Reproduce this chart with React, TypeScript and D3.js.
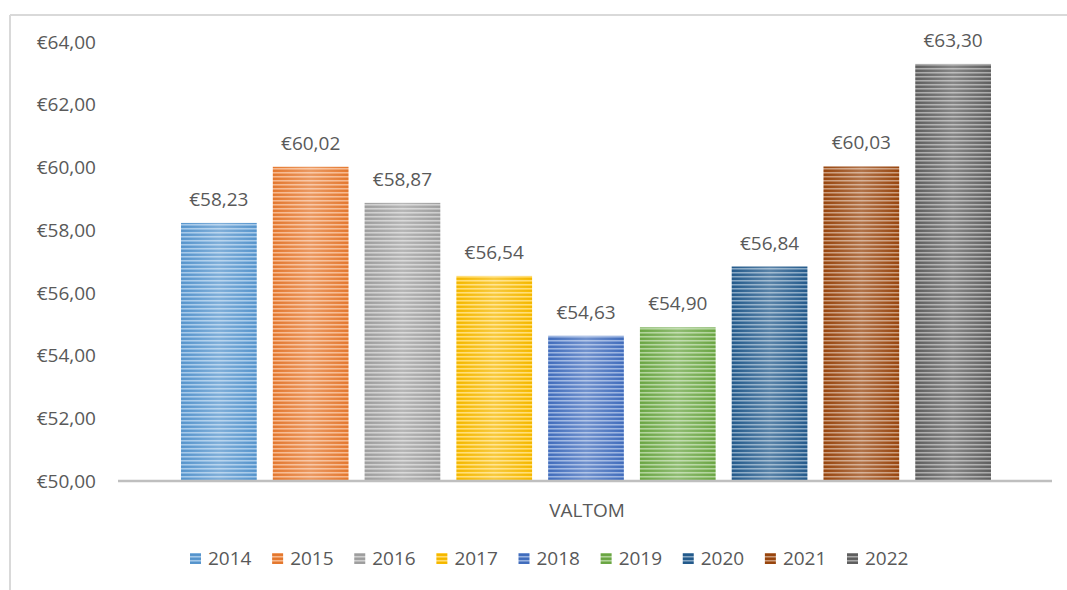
import React from "react";
import * as d3 from "d3";

const years = ["2014", "2015", "2016", "2017", "2018", "2019", "2020", "2021", "2022"];
const values = [58.23, 60.02, 58.87, 56.54, 54.63, 54.9, 56.84, 60.03, 63.3];
const colors = ["#5B9BD5", "#ED7D31", "#A5A5A5", "#FFC000", "#4472C4", "#70AD47", "#255E91", "#9E480E", "#636363"];
const yTicks = [50, 52, 54, 56, 58, 60, 62, 64];
const category = "VALTOM";

const W = 1067;
const H = 590;
const FONT = "'Open Sans', 'Noto Sans', sans-serif";
const TEXT = "#595959";
const FS = 19;

const fmt = (v: number) => "€" + v.toFixed(2).replace(".", ",");

export default function App() {
  const y = d3.scaleLinear().domain([50, 64]).range([481, 42]);
  const plotLeft = 118;
  const plotRight = 1052;
  const x = d3
    .scaleBand<string>()
    .domain(years)
    .range([173, 999])
    .paddingInner(0.175)
    .paddingOuter(0.0875);
  const legendX = d3.scalePoint<string>().domain(years).range([190, 847]);

  return (
    <svg
      width={W}
      height={H}
      style={{ position: "absolute", left: 0, top: 0, background: "#fff" }}
      fontFamily={FONT}
    >
      <defs>
        {years.map((yr, i) => (
          <pattern
            key={yr}
            id={`stripe-${i}`}
            patternUnits="userSpaceOnUse"
            width={8}
            height={4}
          >
            <rect width={8} height={4} fill={colors[i]} />
            <rect y={0} width={8} height={1.5} fill="#ffffff" opacity={0.45} />
            <rect y={2.5} width={8} height={0.8} fill="#000000" opacity={0.1} />
          </pattern>
        ))}
        <linearGradient id="glow" x1="0" x2="1" y1="0" y2="0">
          <stop offset="0" stopColor="#fff" stopOpacity={0} />
          <stop offset="0.5" stopColor="#fff" stopOpacity={0.25} />
          <stop offset="1" stopColor="#fff" stopOpacity={0} />
        </linearGradient>
      </defs>

      {/* chart border */}
      <line x1={10} y1={15} x2={W} y2={15} stroke="#D9D9D9" strokeWidth={2} />
      <line x1={10} y1={15} x2={10} y2={H} stroke="#D9D9D9" strokeWidth={2} />

      {/* y tick labels */}
      {yTicks.map((t) => (
        <text
          key={t}
          x={96}
          y={y(t)}
          dy="0.35em"
          textAnchor="end"
          fontSize={FS}
          fill={TEXT}
        >
          {fmt(t)}
        </text>
      ))}

      {/* bars */}
      {years.map((yr, i) => {
        const bx = x(yr) as number;
        const bw = x.bandwidth();
        const top = y(values[i]);
        const h = y(50) - top;
        return (
          <g key={yr}>
            <rect x={bx} y={top} width={bw} height={h} fill={`url(#stripe-${i})`} />
            <rect x={bx} y={top} width={bw} height={h} fill="url(#glow)" />
            <text
              x={bx + bw / 2}
              y={top - 17}
              textAnchor="middle"
              fontSize={FS}
              fill={TEXT}
            >
              {fmt(values[i])}
            </text>
          </g>
        );
      })}

      {/* x axis */}
      <line x1={plotLeft} y1={y(50)} x2={plotRight} y2={y(50)} stroke="#BFBFBF" strokeWidth={2.5} />
      <text x={587} y={510} dy="0.35em" textAnchor="middle" fontSize={FS} fill={TEXT}>
        {category}
      </text>

      {/* legend */}
      {years.map((yr, i) => {
        const lx = legendX(yr) as number;
        return (
          <g key={yr}>
            <rect x={lx} y={553} width={11} height={11} fill={`url(#stripe-${i})`} />
            <text x={lx + 18} y={558.5} dy="0.35em" fontSize={FS} fill={TEXT}>
              {yr}
            </text>
          </g>
        );
      })}
    </svg>
  );
}
